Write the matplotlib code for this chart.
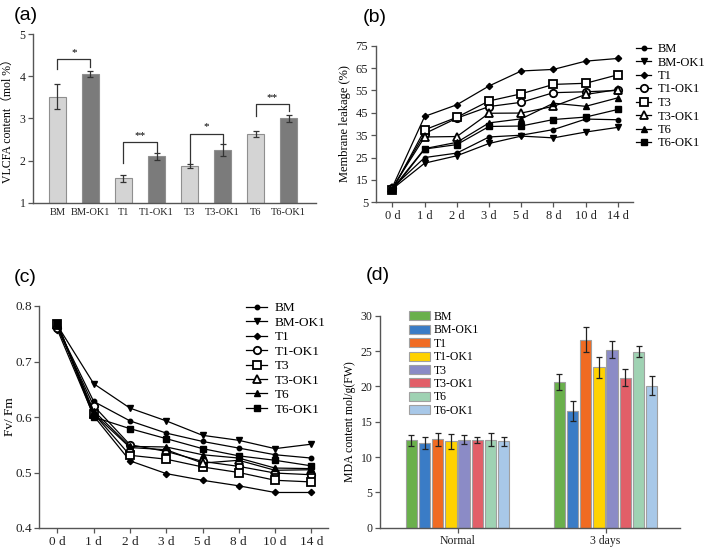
import matplotlib
matplotlib.use("Agg")
import matplotlib.pyplot as plt
import numpy as np
from matplotlib.patches import Patch

SERIF = ['Liberation Serif', 'Noto Sans CJK SC', 'DejaVu Serif']
plt.rcParams['font.family'] = SERIF

# ---------------- data ----------------
# (a) VLCFA content
a_cats = ['BM', 'BM-OK1', 'T1', 'T1-OK1', 'T3', 'T3-OK1', 'T6', 'T6-OK1']
a_vals = [3.52, 4.06, 1.58, 2.10, 1.88, 2.25, 2.64, 3.00]
a_errs = [0.29, 0.08, 0.08, 0.09, 0.05, 0.14, 0.07, 0.09]
# significance brackets
sig_left = [0, 2, 4, 6]
sig_right = [1, 3, 5, 7]
sig_top = [4.41, 2.43, 2.64, 3.34]
sig_lbot = [4.17, 1.94, 1.95, 3.05]
sig_rbot = [4.22, 2.20, 2.40, 3.19]
sig_text = ['*', '**', '*', '**']

# (b) membrane leakage
days = ['0 d', '1 d', '2 d', '3 d', '5 d', '8 d', '10 d', '14 d']
series = ['BM', 'BM-OK1', 'T1', 'T1-OK1', 'T3', 'T3-OK1', 'T6', 'T6-OK1']
b_BM     = [11.5, 25.0, 27.0, 34.2, 35.0, 37.5, 42.2, 41.9]
b_BMOK1  = [11.0, 22.5, 25.8, 31.3, 34.6, 33.8, 36.4, 38.5]
b_T1     = [11.8, 43.4, 48.6, 57.0, 63.7, 64.4, 68.1, 69.3]
b_T1OK1  = [11.2, 35.7, 42.6, 47.8, 49.7, 54.0, 54.4, 55.0]
b_T3     = [10.6, 37.4, 43.0, 50.3, 53.5, 57.7, 58.2, 62.0]
b_T3OK1  = [11.4, 34.2, 34.4, 44.8, 44.9, 47.9, 53.2, 55.4]
b_T6     = [11.0, 29.0, 31.8, 40.5, 42.3, 49.3, 47.9, 51.7]
b_T6OK1  = [10.4, 28.8, 30.8, 38.9, 39.1, 42.0, 43.1, 46.5]

# (c) Fv/Fm
c_BM     = [0.762, 0.628, 0.593, 0.571, 0.556, 0.544, 0.532, 0.526]
c_BMOK1  = [0.765, 0.660, 0.616, 0.593, 0.567, 0.558, 0.543, 0.551]
c_T1     = [0.757, 0.602, 0.521, 0.498, 0.486, 0.476, 0.464, 0.464]
c_T1OK1  = [0.760, 0.620, 0.550, 0.538, 0.520, 0.511, 0.499, 0.496]
c_T3     = [0.768, 0.606, 0.531, 0.524, 0.510, 0.500, 0.486, 0.483]
c_T3OK1  = [0.765, 0.606, 0.545, 0.541, 0.517, 0.522, 0.504, 0.505]
c_T6     = [0.765, 0.611, 0.547, 0.546, 0.532, 0.526, 0.508, 0.507]
c_T6OK1  = [0.770, 0.600, 0.579, 0.561, 0.543, 0.530, 0.522, 0.512]

# (d) MDA content
d_groups = ['Normal', '3 days']
d_normal     = [12.35, 12.05, 12.5, 12.2, 12.45, 12.45, 12.45, 12.2]
d_normal_err = [0.80, 0.85, 0.90, 1.00, 0.60, 0.45, 0.90, 0.70]
d_3days      = [20.6, 16.5, 26.6, 22.7, 25.2, 21.2, 24.9, 20.1]
d_3days_err  = [1.1, 1.4, 1.8, 1.5, 1.2, 1.2, 0.8, 1.3]
d_colors = ['#6ab04c', '#3a7cc6', '#f06b22', '#ffd200', '#8b8bc6',
            '#e25f68', '#9fd2b3', '#a8c8e8']

# ---------------- figure ----------------
W, H = 709, 548
fig = plt.figure(figsize=(W / 100, H / 100), dpi=100)

def px_axes(l, r, t, b):
    return fig.add_axes([l / W, 1 - b / H, (r - l) / W, (b - t) / H])

def style(ax):
    for s in ['top', 'right']:
        ax.spines[s].set_visible(False)
    for s in ['left', 'bottom']:
        ax.spines[s].set_color('#555555')
        ax.spines[s].set_linewidth(1.0)
    ax.tick_params(direction='out', length=3.5, width=0.9, color='#555555',
                   colors='#222222', pad=2)

# ---- (a)
axa = px_axes(33, 316, 34.3, 202.7)
style(axa)
xa = np.arange(len(a_cats))
acol = ['#d4d4d4' if i % 2 == 0 else '#7b7b7b' for i in range(len(a_cats))]
axa.bar(xa, [v - 1 for v in a_vals], bottom=1, width=0.5, color=acol,
        edgecolor='#8f8f8f', linewidth=0.8, zorder=2)
axa.errorbar(xa, a_vals, yerr=a_errs, fmt='none', ecolor='#333333',
             elinewidth=0.9, capsize=2.2, capthick=0.9, zorder=3)
for l, r, t, lb, rb, s in zip(sig_left, sig_right, sig_top, sig_lbot, sig_rbot, sig_text):
    axa.plot([xa[l], xa[l], xa[r], xa[r]], [lb, t, t, rb], color='#333333', lw=0.9)
    axa.text((xa[l] + xa[r]) / 2, t + 0.06, s, ha='center', va='bottom', fontsize=8)
axa.set_xlim(-0.74, 7.83)
axa.set_ylim(1, 5)
axa.set_yticks([1, 2, 3, 4, 5])
axa.set_xticks(xa)
axa.set_xticklabels(a_cats, fontsize=7.5)
axa.tick_params(axis='y', labelsize=8.5)
axa.tick_params(axis='x', length=0, pad=4)
axa.set_ylabel('VLCFA content（mol %）', fontsize=8.5, labelpad=4)

# ---- line chart styles
mk = {
    'BM':     dict(marker='o', ms=3.2, mfc='black'),
    'BM-OK1': dict(marker='v', ms=5.0, mfc='black'),
    'T1':     dict(marker='D', ms=3.2, mfc='black'),
    'T1-OK1': dict(marker='o', ms=5.3, mfc='white', mew=1.3),
    'T3':     dict(marker='s', ms=5.3, mfc='white', mew=1.3),
    'T3-OK1': dict(marker='^', ms=5.3, mfc='white', mew=1.3),
    'T6':     dict(marker='^', ms=4.2, mfc='black'),
    'T6-OK1': dict(marker='s', ms=4.8, mfc='black'),
}

# ---- (b)
axb = px_axes(375.7, 633, 45.7, 202.3)
style(axb)
xb = np.arange(len(days))
b_data = [b_BM, b_BMOK1, b_T1, b_T1OK1, b_T3, b_T3OK1, b_T6, b_T6OK1]
hb = []
for name, ys in zip(series, b_data):
    ln, = axb.plot(xb, ys, color='black', lw=0.9, mec='black', label=name, **mk[name])
    hb.append(ln)
axb.set_xlim(-0.52, 7.47)
axb.set_ylim(5, 75)
axb.set_yticks(np.arange(5, 76, 10))
axb.set_xticks(xb)
axb.set_xticklabels(days, fontsize=9)
axb.tick_params(axis='y', labelsize=9)
axb.set_ylabel('Membrane leakage (%)', fontsize=9, labelpad=3)
fig.legend(handles=hb, loc='upper left', bbox_to_anchor=(636 / W, 1 - 43 / H),
           frameon=False, fontsize=9, handlelength=1.2, handletextpad=0.5,
           labelspacing=0.12, borderpad=0, borderaxespad=0)

# ---- (c)
axc = px_axes(39.3, 328, 306, 528)
style(axc)
c_data = [c_BM, c_BMOK1, c_T1, c_T1OK1, c_T3, c_T3OK1, c_T6, c_T6OK1]
hc = []
for name, ys in zip(series, c_data):
    ln, = axc.plot(xb, ys, color='black', lw=0.9, mec='black', label=name, **mk[name])
    hc.append(ln)
axc.set_xlim(-0.5, 7.46)
axc.set_ylim(0.4, 0.8)
axc.set_yticks([0.4, 0.5, 0.6, 0.7, 0.8])
axc.set_yticklabels(['0.4', '0.5', '0.6', '0.7', '0.8'])
axc.set_xticks(xb)
axc.set_xticklabels(days, fontsize=9.5)
axc.tick_params(axis='y', labelsize=9.5)
axc.set_ylabel('Fv/ Fm', fontsize=9.5)
axc.yaxis.set_label_coords(-0.082, 0.5)
fig.legend(handles=hc, loc='upper left', bbox_to_anchor=(246 / W, 1 - 302 / H),
           frameon=False, fontsize=9.5, handlelength=1.6, handletextpad=0.6,
           labelspacing=0.17, borderpad=0, borderaxespad=0)

# ---- (d)
axd = px_axes(380, 680, 315.7, 527.7)
style(axd)
xd = np.arange(len(d_groups))
nb = len(series)
step = 0.0892
bw = step * 0.86
hd = []
for i, name in enumerate(series):
    pos = xd + (i - (nb - 1) / 2) * step
    vals = [d_normal[i], d_3days[i]]
    errs = [d_normal_err[i], d_3days_err[i]]
    axd.bar(pos, vals, width=bw, color=d_colors[i], edgecolor='#a0a0a0',
            linewidth=0.8, zorder=2)
    axd.errorbar(pos, vals, yerr=errs, fmt='none', ecolor='#222222',
                 elinewidth=0.9, capsize=2.2, capthick=0.9, zorder=3)
    hd.append(Patch(facecolor=d_colors[i], edgecolor='#a0a0a0', linewidth=0.8, label=name))
axd.set_xlim(-0.524, 1.503)
axd.set_ylim(0, 30)
axd.set_yticks(np.arange(0, 31, 5))
axd.set_xticks(xd)
axd.set_xticklabels(d_groups, fontsize=8.5)
axd.tick_params(axis='y', labelsize=8.5)
axd.set_ylabel('MDA content mol/g(FW)', fontsize=8.5, labelpad=3)
fig.legend(handles=hd, loc='upper left', bbox_to_anchor=(409 / W, 1 - 311 / H),
           frameon=False, fontsize=8.5, handlelength=1.8, handleheight=0.8,
           handletextpad=0.3, labelspacing=0.12, borderpad=0, borderaxespad=0)

# ---- panel labels
for txt, x, y in [('(a)', 14, 15), ('(b)', 363, 17), ('(c)', 14, 278), ('(d)', 366, 276)]:
    fig.text(x / W, 1 - y / H, txt, fontsize=14, family=['Liberation Sans', 'DejaVu Sans'],
             ha='left', va='center')

fig.savefig('out.png', dpi=100)
